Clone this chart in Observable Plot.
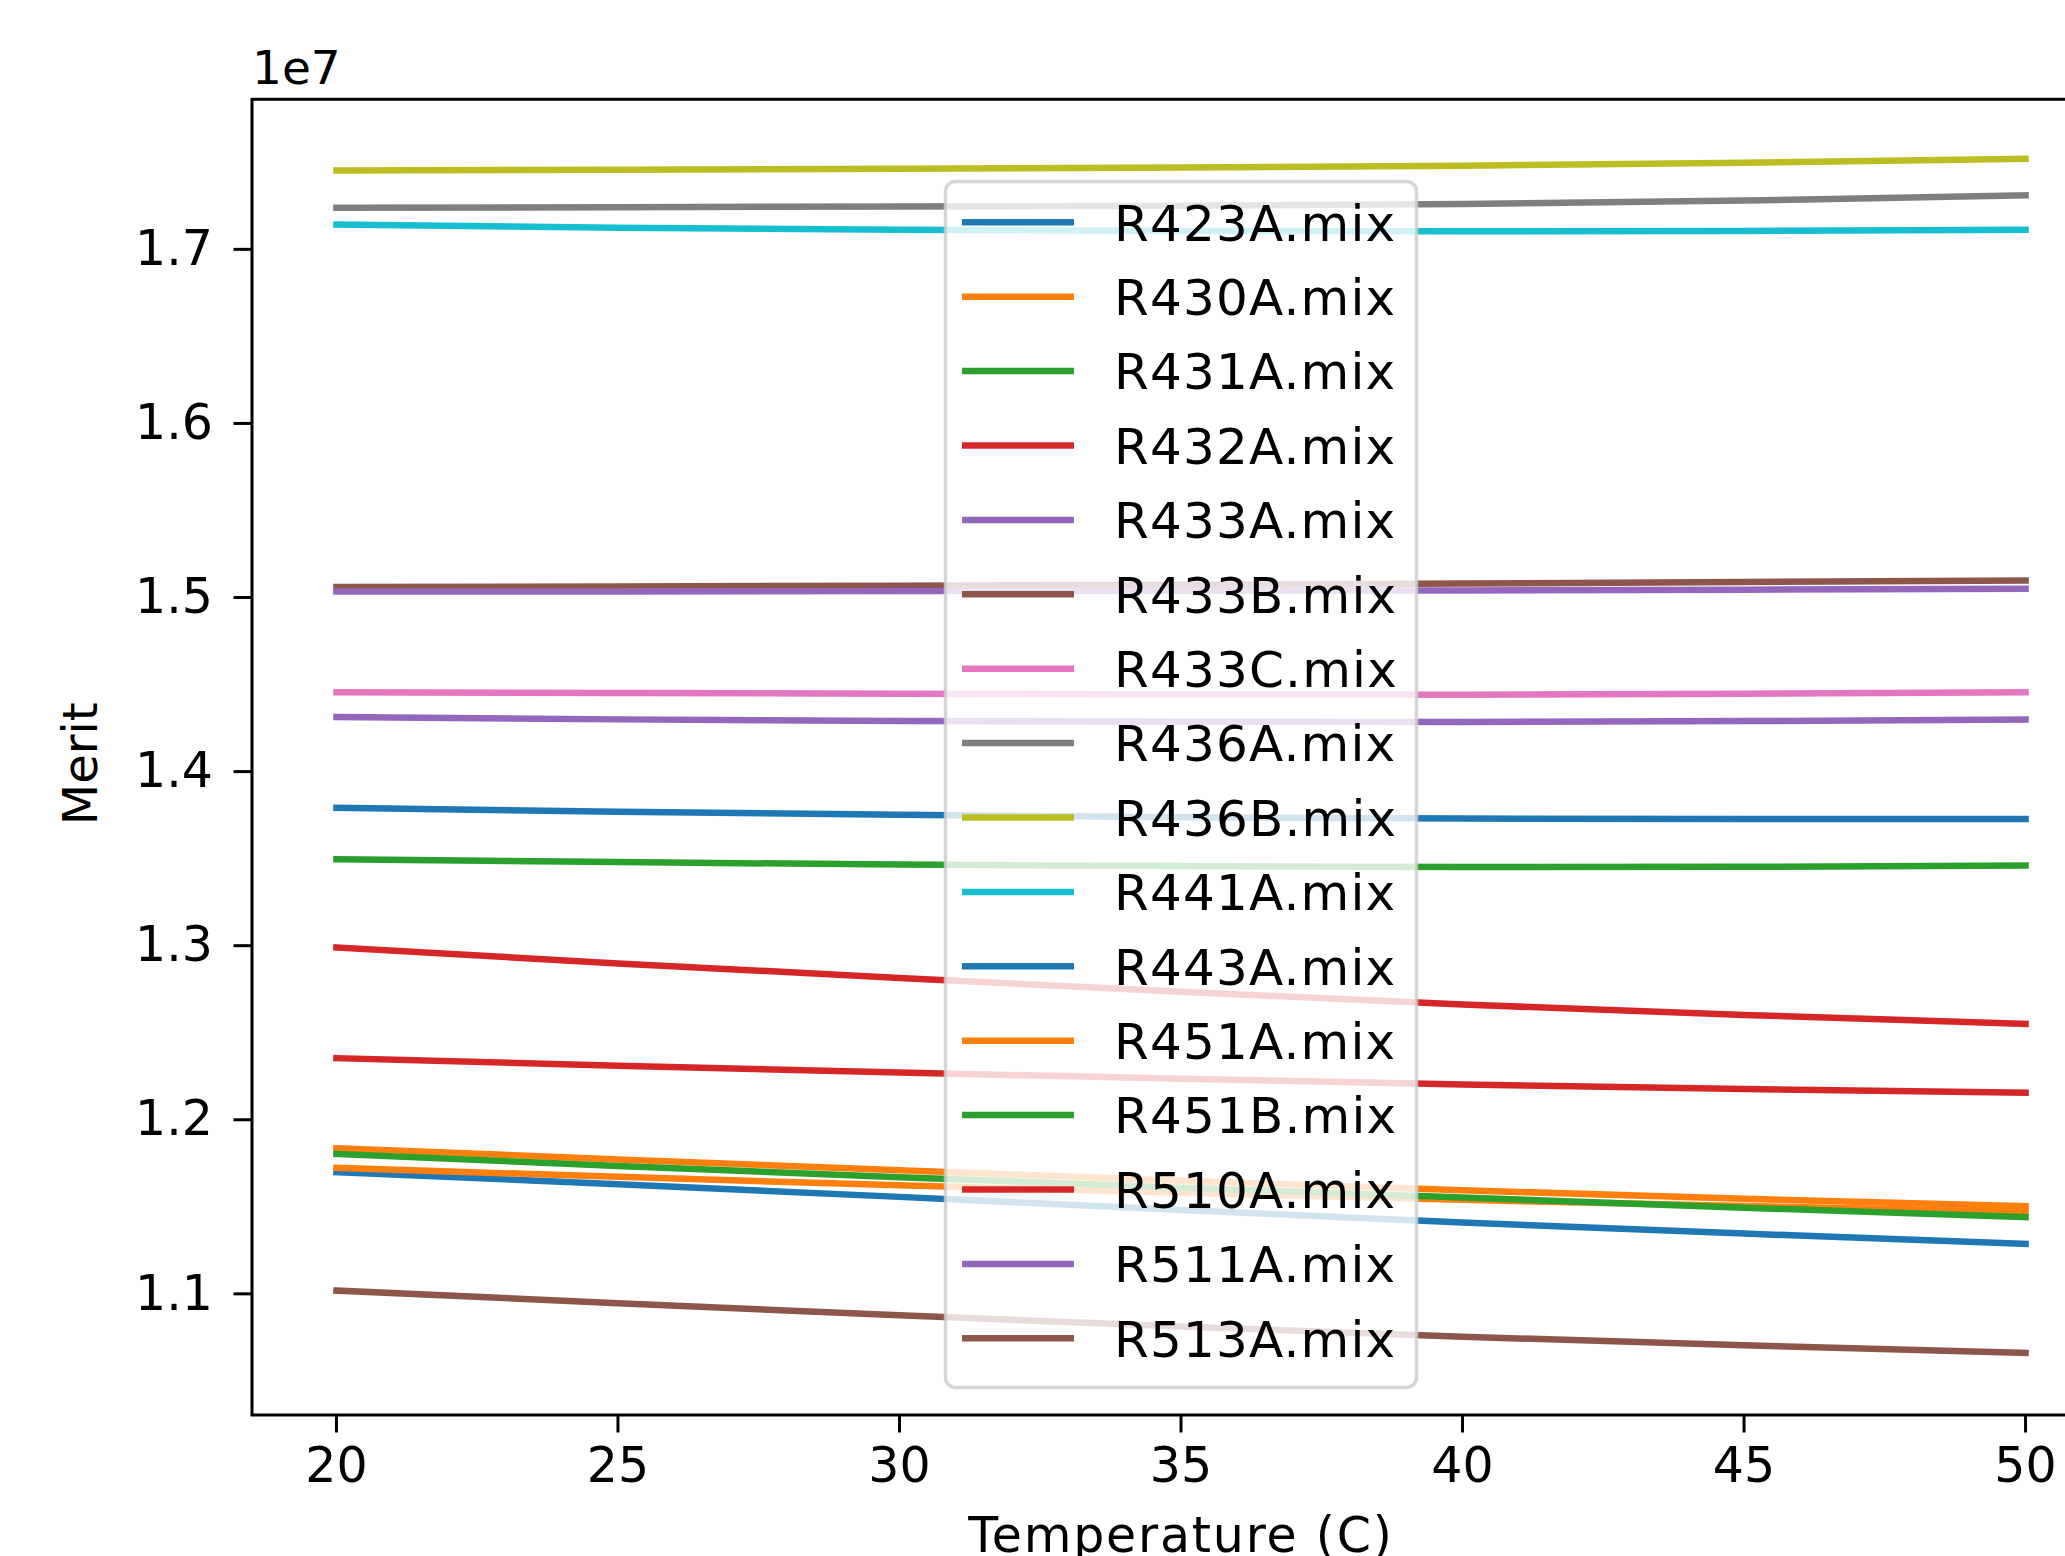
<!DOCTYPE html>
<html>
<head>
<meta charset="utf-8">
<script src="https://cdn.jsdelivr.net/npm/d3@7"></script>
<script src="https://cdn.jsdelivr.net/npm/@observablehq/plot@0.6"></script>
<style>
  html, body { margin: 0; padding: 0; background: #fff; overflow: hidden; }
  #chart { width: 2065px; height: 1556px; }
</style>
</head>
<body>
<div id="chart"></div>
<script>
// ---- Data (Merit values) ----
const temperatures = [20, 25, 30, 35, 40, 45, 50];

const seriesNames = [
  "R423A.mix", "R430A.mix", "R431A.mix", "R432A.mix", "R433A.mix", "R433B.mix",
  "R433C.mix", "R436A.mix", "R436B.mix", "R441A.mix", "R443A.mix", "R451A.mix",
  "R451B.mix", "R510A.mix", "R511A.mix", "R513A.mix"
];
const seriesColors = [
  "#1f77b4", "#ff7f0e", "#2ca02c", "#d62728", "#9467bd", "#8c564b",
  "#e377c2", "#7f7f7f", "#bcbd22", "#17becf", "#1f77b4", "#ff7f0e",
  "#2ca02c", "#d62728", "#9467bd", "#8c564b"
];

const R423A = [1.1699e7, 1.1630e7, 1.1557e7, 1.1482e7, 1.1410e7, 1.1346e7, 1.1287e7];
const R430A = [1.1837e7, 1.1772e7, 1.1710e7, 1.1650e7, 1.1595e7, 1.1546e7, 1.1503e7];
const R431A = [1.3497e7, 1.3480e7, 1.3466e7, 1.3457e7, 1.3452e7, 1.3453e7, 1.3460e7];
const R432A = [1.2990e7, 1.2898e7, 1.2815e7, 1.2735e7, 1.2662e7, 1.2602e7, 1.2551e7];
const R433A = [1.4313e7, 1.4300e7, 1.4291e7, 1.4286e7, 1.4285e7, 1.4290e7, 1.4299e7];
const R433B = [1.5060e7, 1.5064e7, 1.5068e7, 1.5073e7, 1.5080e7, 1.5089e7, 1.5098e7];
const R433C = [1.4456e7, 1.4452e7, 1.4447e7, 1.4443e7, 1.4442e7, 1.4447e7, 1.4456e7];
const R436A = [1.7239e7, 1.7242e7, 1.7246e7, 1.7251e7, 1.7260e7, 1.7280e7, 1.7310e7];
const R436B = [1.7453e7, 1.7457e7, 1.7463e7, 1.7470e7, 1.7480e7, 1.7498e7, 1.7520e7];
const R441A = [1.7143e7, 1.7124e7, 1.7112e7, 1.7106e7, 1.7104e7, 1.7106e7, 1.7112e7];
const R443A = [1.3792e7, 1.3770e7, 1.3752e7, 1.3738e7, 1.3730e7, 1.3728e7, 1.3728e7];
const R451A = [1.1724e7, 1.1672e7, 1.1624e7, 1.1580e7, 1.1540e7, 1.1504e7, 1.1472e7];
const R451B = [1.1804e7, 1.1735e7, 1.1670e7, 1.1610e7, 1.1553e7, 1.1495e7, 1.1440e7];
const R510A = [1.2354e7, 1.2310e7, 1.2271e7, 1.2236e7, 1.2203e7, 1.2177e7, 1.2155e7];
const R511A = [1.5034e7, 1.5035e7, 1.5037e7, 1.5039e7, 1.5041e7, 1.5045e7, 1.5050e7];
const R513A = [1.1019e7, 1.0946e7, 1.0877e7, 1.0812e7, 1.0754e7, 1.0704e7, 1.0661e7];

const seriesValues = [R423A, R430A, R431A, R432A, R433A, R433B, R433C, R436A,
                      R436B, R441A, R443A, R451A, R451B, R510A, R511A, R513A];

const xTicks = [20, 25, 30, 35, 40, 45, 50];
const yTicks = [1.1e7, 1.2e7, 1.3e7, 1.4e7, 1.5e7, 1.6e7, 1.7e7];

// Long-format table built from the arrays above
const rows = [];
seriesNames.forEach((name, i) => {
  temperatures.forEach((t, j) => rows.push({name, t, v: seriesValues[i][j]}));
});

const FONT = "'DejaVu Sans', sans-serif";

const plot = Plot.plot({
  width: 2065,
  height: 1556,
  marginLeft: 251.5,
  marginRight: -44.5,
  marginTop: 98.8,
  marginBottom: 141.5,
  style: {fontFamily: FONT, fontSize: "49px", color: "#000", background: "#fff", overflow: "hidden"},
  x: {domain: [18.5, 51.5]},
  y: {domain: [1.0304e7, 1.7862e7]},
  color: {domain: seriesNames, range: seriesColors},
  marks: [
    Plot.line(rows, {x: "t", y: "v", z: "name", stroke: "name", strokeWidth: 6.5,
                     strokeLinecap: "square", strokeLinejoin: "round"}),
    Plot.frame({stroke: "#000", strokeWidth: 3}),
    Plot.axisX({ticks: xTicks, tickSize: 18, tickPadding: 14, strokeWidth: 3,
                fontSize: 49, label: null, tickFormat: d => String(d)}),
    Plot.axisY({ticks: yTicks, tickSize: 18, tickPadding: 21, strokeWidth: 3,
                fontSize: 49, label: null, tickFormat: d => (d / 1e7).toFixed(1)}),
    Plot.text(["Temperature (C)"], {frameAnchor: "bottom", lineAnchor: "top", dy: 102, fontSize: 49}),
    Plot.text(["Merit"], {frameAnchor: "left", dx: -170, dy: 68, rotate: -90, fontSize: 48}),
    Plot.text(["1e7"], {frameAnchor: "top-left", textAnchor: "start", lineAnchor: "bottom", dy: -15, fontSize: 47})
  ]
});

const svg = d3.select(plot);
svg.selectAll("text")
  .filter(function () { return this.textContent === "Temperature (C)"; })
  .attr("letter-spacing", "1.8px");

// ---- Legend (matplotlib-style, drawn on top of the lines) ----
const lg = svg.append("g")
  .attr("font-family", FONT).attr("font-size", 50).attr("text-anchor", "start");
lg.append("rect")
  .attr("x", 945.5).attr("y", 181.5).attr("width", 471).attr("height", 1206)
  .attr("rx", 10).attr("ry", 10)
  .attr("fill", "#fff").attr("fill-opacity", 0.8)
  .attr("stroke", "#cccccc").attr("stroke-opacity", 0.8).attr("stroke-width", 3.5);
seriesNames.forEach((name, i) => {
  const cy = 222.3 + i * 74.4;
  lg.append("line")
    .attr("x1", 962).attr("x2", 1074).attr("y1", cy).attr("y2", cy)
    .attr("stroke", seriesColors[i]).attr("stroke-width", 6.5);
  lg.append("text")
    .attr("x", 1114).attr("y", cy + 18.2)
    .attr("fill", "#000").attr("text-anchor", "start")
    .attr("letter-spacing", "1.2px")
    .text(name);
});

document.getElementById("chart").appendChild(plot);
</script>
</body>
</html>
